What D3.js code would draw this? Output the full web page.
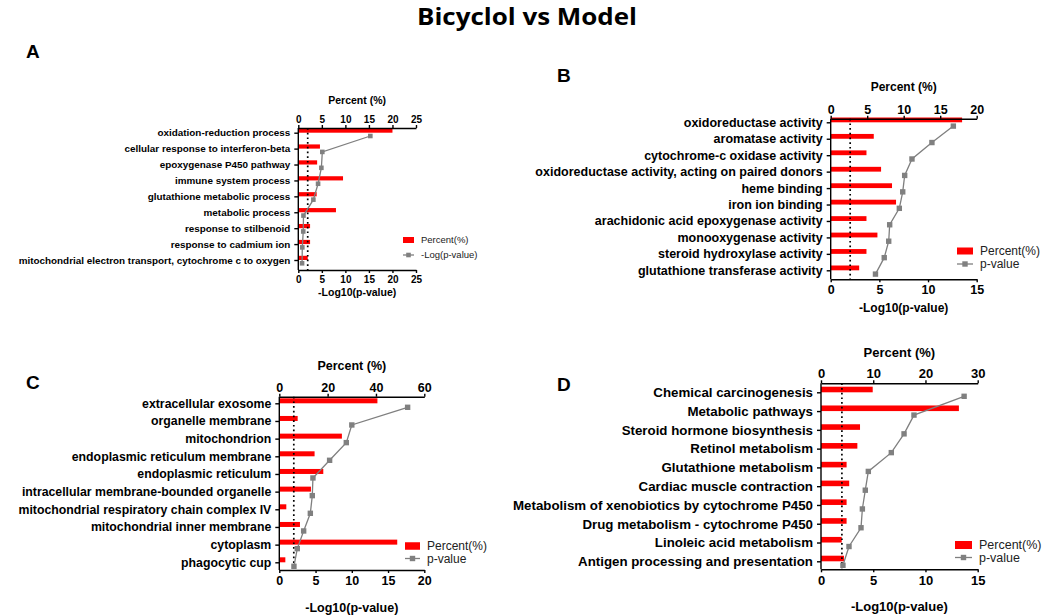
<!DOCTYPE html>
<html>
<head>
<meta charset="utf-8">
<script src="https://cdn.jsdelivr.net/npm/d3@7"></script>
<style>
  body { margin: 0; background: #fff; }
  svg { display: block; }
  text { font-family: "Liberation Sans", Arial, sans-serif; }
</style>
</head>
<body>
<svg id="chart" width="1052" height="615"></svg>
<script>
// ---- data ----
const termsA = ['oxidation-reduction process', 'cellular response to interferon-beta', 'epoxygenase P450 pathway',
  'immune system process', 'glutathione metabolic process', 'metabolic process', 'response to stilbenoid',
  'response to cadmium ion', 'mitochondrial electron transport, cytochrome c to oxygen'];
const percentA = [20.0, 4.6, 4.0, 9.5, 3.9, 8.0, 2.5, 2.5, 2.0];
const logpA = [15.3, 5.1, 4.9, 4.2, 3.2, 1.1, 1.05, 0.85, 0.8];

const termsB = ['oxidoreductase activity', 'aromatase activity', 'cytochrome-c oxidase activity',
  'oxidoreductase activity, acting on paired donors', 'heme binding', 'iron ion binding',
  'arachidonic acid epoxygenase activity', 'monooxygenase activity', 'steroid hydroxylase activity',
  'glutathione transferase activity'];
const percentB = [18.0, 5.9, 4.9, 6.9, 8.4, 8.95, 4.9, 6.4, 4.9, 3.9];
const logpB = [12.6, 10.4, 8.35, 7.6, 7.4, 7.05, 6.06, 5.96, 5.5, 4.6];

const termsC = ['extracellular exosome', 'organelle membrane', 'mitochondrion', 'endoplasmic reticulum membrane',
  'endoplasmic reticulum', 'intracellular membrane-bounded organelle', 'mitochondrial respiratory chain complex IV',
  'mitochondrial inner membrane', 'cytoplasm', 'phagocytic cup'];
const percentC = [40.6, 7.6, 25.9, 14.6, 18.2, 13.1, 2.9, 8.55, 48.8, 2.5];
const logpC = [17.7, 10.0, 9.24, 6.94, 4.64, 4.55, 4.28, 3.36, 2.48, 2.02];

const termsD = ['Chemical carcinogenesis', 'Metabolic pathways', 'Steroid hormone biosynthesis', 'Retinol metabolism',
  'Glutathione metabolism', 'Cardiac muscle contraction', 'Metabolism of xenobiotics by cytochrome P450',
  'Drug metabolism - cytochrome P450', 'Linoleic acid metabolism', 'Antigen processing and presentation'];
const percentD = [9.9, 26.4, 7.47, 6.96, 4.9, 5.4, 4.9, 4.9, 3.96, 4.4];
const logpD = [13.7, 8.9, 7.95, 6.73, 4.53, 4.24, 3.96, 3.83, 2.68, 2.1];

const threshold = 2; // dotted line on -log10 axis
const legendLabelsA = ['Percent(%)', '-Log(p-value)'];
const legendLabels = ['Percent(%)', 'p-value'];

const svg = d3.select('#chart');

svg.append('text')
  .attr('x', 527).attr('y', 25)
  .attr('text-anchor', 'middle')
  .attr('textLength', 220)
  .attr('lengthAdjust', 'spacingAndGlyphs')
  .style('font-family', '"Open Sans", sans-serif')
  .style('font-weight', 'bold')
  .style('font-size', '23px')
  .text('Bicyclol vs Model');

function drawPanel(p) {
  const g = svg.append('g');
  const xPct = d3.scaleLinear().domain([0, p.pctMax]).range([p.x0, p.x1]);
  const xLog = d3.scaleLinear().domain([0, p.logMax]).range([p.x0, p.x1]);
  const y = d3.scalePoint().domain(p.terms).range([p.first, p.last]);

  // panel letter
  g.append('text').attr('x', p.letter[0]).attr('y', p.letter[1])
    .style('font-weight', 'bold').style('font-size', '19px').text(p.name);

  // bars
  g.append('g').selectAll('rect')
    .data(p.terms)
    .join('rect')
    .attr('x', p.x0)
    .attr('y', d => y(d) - p.barH)
    .attr('width', (d, i) => xPct(p.pct[i]) - p.x0)
    .attr('height', p.barH)
    .attr('fill', '#ff0000');

  // dotted threshold
  g.append('line')
    .attr('x1', xLog(threshold)).attr('x2', xLog(threshold))
    .attr('y1', p.yTop).attr('y2', p.yBot)
    .attr('stroke', '#000').attr('stroke-width', 1.7)
    .attr('stroke-dasharray', '1.7,3');

  // p-value line
  const pts = p.terms.map((t, i) => [xLog(p.logp[i]), y(t) + p.mOff]);
  g.append('path')
    .attr('d', d3.line()(pts))
    .attr('fill', 'none').attr('stroke', '#7f7f7f').attr('stroke-width', 1.3);
  g.append('g').selectAll('rect')
    .data(pts)
    .join('rect')
    .attr('x', d => d[0] - p.ms / 2).attr('y', d => d[1] - p.ms / 2)
    .attr('width', p.ms).attr('height', p.ms)
    .attr('fill', '#808080');

  // axes
  const top = g.append('g').attr('transform', `translate(0,${p.yTop})`)
    .call(d3.axisTop(xPct).tickValues(p.pctTicks).tickSize(3).tickPadding(2).tickSizeOuter(0));
  const bot = g.append('g').attr('transform', `translate(0,${p.yBot})`)
    .call(d3.axisBottom(xLog).tickValues(p.logTicks).tickSize(3).tickPadding(3).tickSizeOuter(0));
  const left = g.append('g').attr('transform', `translate(${p.x0},0)`)
    .call(d3.axisLeft(y).tickSize(4).tickPadding(4).tickSizeOuter(0));
  left.select('.domain').attr('d', `M0,${p.yTop}V${p.yBot}`);

  [top, bot, left].forEach(a => {
    a.selectAll('.domain, line').attr('stroke', '#000').attr('stroke-width', 1.4);
    a.selectAll('text').attr('fill', '#000')
      .style('font-family', '"Liberation Sans", Arial, sans-serif')
      .style('font-weight', 'bold');
  });
  top.selectAll('text').style('font-size', p.tickFs + 'px');
  bot.selectAll('text').style('font-size', p.tickFs + 'px');
  left.selectAll('text').style('font-size', p.labelFs + 'px');

  const cx = (p.x0 + p.x1) / 2;
  g.append('text').attr('x', cx).attr('y', p.pctTitleY).attr('text-anchor', 'middle')
    .style('font-weight', 'bold').style('font-size', p.titleFs + 'px').text('Percent (%)');
  g.append('text').attr('x', cx).attr('y', p.logTitleY).attr('text-anchor', 'middle')
    .style('font-weight', 'bold').style('font-size', p.titleFs + 'px').text('-Log10(p-value)');

  // legend
  const lg = g.append('g').attr('transform', `translate(${p.legend[0]},${p.legend[1]})`);
  const lw = p.legW;
  lg.append('rect').attr('x', 0).attr('y', -p.legH / 2).attr('width', lw).attr('height', p.legH).attr('fill', '#ff0000');
  lg.append('line').attr('x1', 0).attr('x2', lw).attr('y1', p.legGap).attr('y2', p.legGap)
    .attr('stroke', '#7f7f7f').attr('stroke-width', 1.3);
  lg.append('rect').attr('x', lw / 2 - p.ms / 2).attr('y', p.legGap - p.ms / 2)
    .attr('width', p.ms).attr('height', p.ms).attr('fill', '#808080');
  lg.selectAll('text.leg')
    .data(p.legendLabels)
    .join('text')
    .attr('class', 'leg')
    .attr('x', lw + 7)
    .attr('y', (d, i) => i * p.legGap)
    .attr('dy', '0.35em')
    .attr('fill', '#222')
    .style('font-size', p.legFs + 'px')
    .text(d => d);
}

drawPanel({
  name: 'A', letter: [26, 58], terms: termsA, pct: percentA, logp: logpA,
  x0: 298.3, x1: 416, yTop: 128, yBot: 270, first: 132.7, last: 260,
  pctMax: 25, logMax: 25, pctTicks: [0, 5, 10, 15, 20, 25], logTicks: [0, 5, 10, 15, 20, 25],
  barH: 4.2, mOff: 3.3, ms: 4.6, labelFs: 9.9, tickFs: 10, titleFs: 10.5,
  pctTitleY: 104, logTitleY: 296,
  legend: [403, 240], legW: 11, legH: 6, legGap: 15, legFs: 9.5, legendLabels: legendLabelsA
});

drawPanel({
  name: 'B', letter: [557, 82], terms: termsB, pct: percentB, logp: logpB,
  x0: 830.7, x1: 976.7, yTop: 118.7, yBot: 279.3, first: 122.3, last: 270.3,
  pctMax: 20, logMax: 15, pctTicks: [0, 5, 10, 15, 20], logTicks: [0, 5, 10, 15],
  barH: 4.8, mOff: 3.8, ms: 5.4, labelFs: 12.5, tickFs: 12.5, titleFs: 12,
  pctTitleY: 91, logTitleY: 312,
  legend: [957, 251], legW: 16, legH: 7, legGap: 13, legFs: 12, legendLabels: legendLabels
});

drawPanel({
  name: 'C', letter: [26, 389], terms: termsC, pct: percentC, logp: logpC,
  x0: 279.3, x1: 424.3, yTop: 396.7, yBot: 570, first: 403.3, last: 562.3,
  pctMax: 60, logMax: 20, pctTicks: [0, 20, 40, 60], logTicks: [0, 5, 10, 15, 20],
  barH: 5, mOff: 4, ms: 5.4, labelFs: 12.3, tickFs: 12.5, titleFs: 12.5,
  pctTitleY: 370, logTitleY: 612,
  legend: [405, 546], legW: 15, legH: 7.5, legGap: 12.5, legFs: 12, legendLabels: legendLabels
});

drawPanel({
  name: 'D', letter: [557, 391], terms: termsD, pct: percentD, logp: logpD,
  x0: 821, x1: 977.7, yTop: 383.3, yBot: 569.3, first: 392.3, last: 561.3,
  pctMax: 30, logMax: 15, pctTicks: [0, 10, 20, 30], logTicks: [0, 5, 10, 15],
  barH: 5.6, mOff: 4, ms: 5.4, labelFs: 13.3, tickFs: 13, titleFs: 13,
  pctTitleY: 357, logTitleY: 611,
  legend: [955, 545], legW: 17, legH: 8, legGap: 12.5, legFs: 12.5, legendLabels: legendLabels
});
</script>
</body>
</html>
